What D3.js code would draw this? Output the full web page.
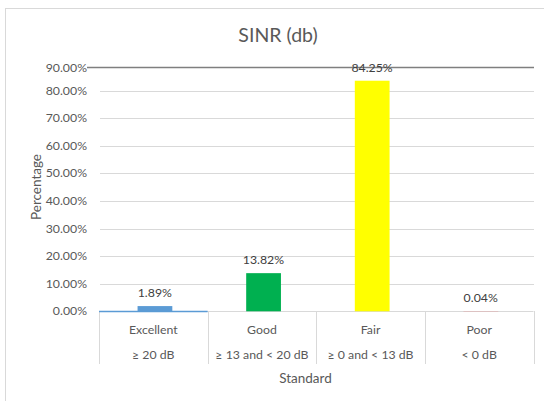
<!DOCTYPE html>
<html>
<head>
<meta charset="utf-8">
<script src="https://cdn.jsdelivr.net/npm/d3@7"></script>
<style>
  body { margin: 0; background: #fff; }
  text { font-family: Lato, "Open Sans", sans-serif; fill: #595959; }
</style>
</head>
<body>
<script>
// chart data
var categories = ['Excellent', 'Good', 'Fair', 'Poor'];
var ranges = ['\u2265 20 dB', '\u2265 13 and < 20 dB', '\u2265 0 and < 13 dB', '< 0 dB'];
var values = [0.0189, 0.1382, 0.8425, 0.0004];
var barColors = ['#5b9bd5', '#00b050', '#ffff00', '#ff0000'];
var yTicks = [0, 0.1, 0.2, 0.3, 0.4, 0.5, 0.6, 0.7, 0.8, 0.9];

var svg = d3.select('body').append('svg').attr('width', 544).attr('height', 401);

// outer chart border
svg.append('rect').attr('x', 5.5).attr('y', 8.5).attr('width', 540).attr('height', 400)
    .attr('fill', 'none').attr('stroke', '#d9d9d9');

var x = d3.scaleBand().domain(categories).range([99, 533.5]);
var y = d3.scaleLinear().domain([0, 0.8, 0.9]).range([311.3, 90.5, 67.5]);
var fmt = d3.format('.2%');

// gridlines
svg.selectAll('.grid').data(yTicks.slice(1, -1)).enter().append('line')
    .attr('x1', 100).attr('x2', 534)
    .attr('y1', function(d){ return Math.round(y(d)) + 0.5 })
    .attr('y2', function(d){ return Math.round(y(d)) + 0.5 })
    .attr('stroke', '#d9d9d9');

// dark top line
svg.append('line').attr('x1', 87).attr('x2', 534)
    .attr('y1', y(0.9)).attr('y2', y(0.9))
    .attr('stroke', '#7f7f7f').attr('stroke-width', 1.5);

// y tick labels
svg.selectAll('.ytick').data(yTicks).enter().append('text')
    .attr('x', 87).attr('y', function(d){ return y(d) + 4 })
    .attr('text-anchor', 'end').style('font-size', '12.3px')
    .text(function(d){ return fmt(d) });

// category separators
svg.selectAll('.sep').data(categories.concat(['end'])).enter().append('line')
    .attr('x1', function(d, i){ return Math.round(99 + i * x.bandwidth()) + 0.5 })
    .attr('x2', function(d, i){ return Math.round(99 + i * x.bandwidth()) + 0.5 })
    .attr('y1', 311).attr('y2', 364)
    .attr('stroke', '#d9d9d9');

// axis line
svg.append('line').attr('x1', 99).attr('x2', 533.5).attr('y1', 311.5).attr('y2', 311.5)
    .attr('stroke', '#d9d9d9');
svg.append('line').attr('x1', x('Excellent')).attr('x2', x('Excellent') + x.bandwidth())
    .attr('y1', 311.5).attr('y2', 311.5).attr('stroke', barColors[0]).attr('stroke-width', 1.5);

// bars
svg.selectAll('.bar').data(values).enter().append('rect')
    .attr('x', function(d, i){ return x(categories[i]) + x.bandwidth() * 0.355 })
    .attr('width', x.bandwidth() * 0.32)
    .attr('y', function(d){ return y(d) })
    .attr('height', function(d){ return y(0) - y(d) })
    .attr('fill', function(d, i){ return barColors[i] });

// data labels
svg.selectAll('.lbl').data(values).enter().append('text')
    .attr('x', function(d, i){ return x(categories[i]) + x.bandwidth() / 2 + 1.5 })
    .attr('y', function(d){ return y(d) - 9 })
    .attr('text-anchor', 'middle').style('font-size', '12.3px').style('fill', '#404040')
    .text(function(d){ return fmt(d) });

// category labels
svg.selectAll('.cat').data(categories).enter().append('text')
    .attr('x', function(d){ return x(d) + x.bandwidth() / 2 })
    .attr('y', 334).attr('text-anchor', 'middle').style('font-size', '12.3px')
    .text(function(d){ return d });
svg.selectAll('.rng').data(ranges).enter().append('text')
    .attr('x', function(d, i){ return x(categories[i]) + x.bandwidth() / 2 })
    .attr('y', 359).attr('text-anchor', 'middle').style('font-size', '12.3px')
    .text(function(d){ return d });

// titles
svg.append('text').attr('x', 278).attr('y', 42).attr('text-anchor', 'middle')
    .style('font-size', '19.5px').text('SINR (db)');
svg.append('text').attr('x', 305.5).attr('y', 383).attr('text-anchor', 'middle')
    .style('font-size', '13.5px').text('Standard');
svg.append('text').attr('transform', 'translate(41,187) rotate(-90)')
    .attr('text-anchor', 'middle').style('font-size', '13.5px').text('Percentage');
</script>
</body>
</html>
